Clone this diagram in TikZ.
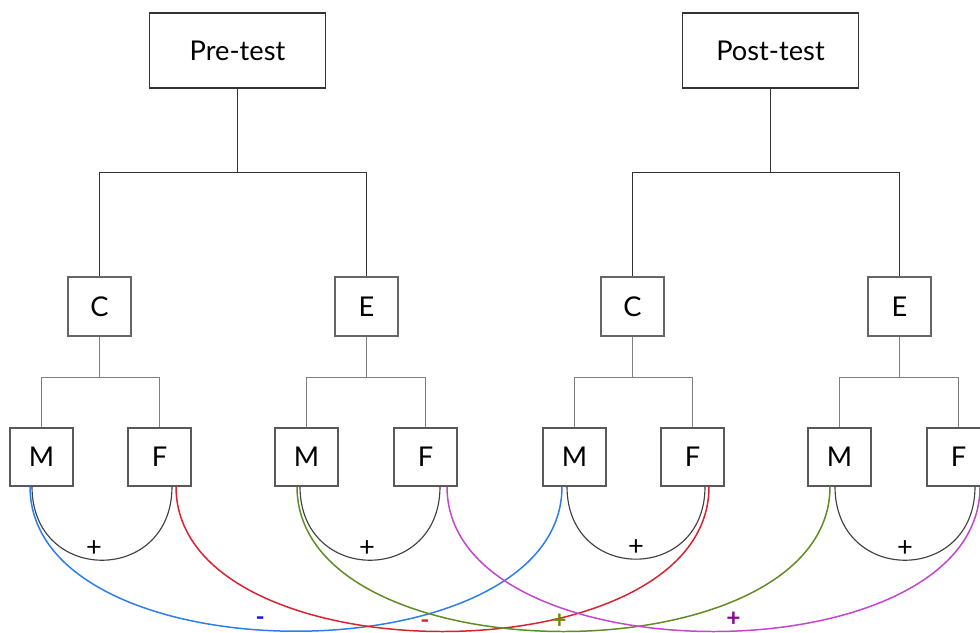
\documentclass[tikz,border=0pt]{standalone}
\usepackage{fontspec}
\setmainfont{Lato}
\definecolor{cblue}{RGB}{45,125,235}
\definecolor{cred}{RGB}{215,35,50}
\definecolor{cgreen}{RGB}{95,140,35}
\definecolor{cmagenta}{RGB}{195,70,205}
\definecolor{lblue}{RGB}{25,25,235}
\definecolor{lred}{RGB}{225,40,45}
\definecolor{lgreen}{RGB}{115,135,0}
\definecolor{lpurple}{RGB}{135,10,145}
\begin{document}
\begin{tikzpicture}[
    font=\fontsize{15.5}{18}\selectfont,
    testbox/.style={draw=black!80, line width=0.75pt, minimum width=3.52cm, minimum height=1.5cm},
    groupbox/.style={draw=black!60, line width=0.6pt, minimum width=1.26cm, minimum height=1.18cm},
    sexbox/.style={draw=black!65, line width=0.6pt, minimum width=1.26cm, minimum height=1.16cm},
    upper/.style={draw=black!80, line width=0.7pt},
    lower/.style={draw=black!50, line width=0.6pt},
    pair/.style={draw=black!75, line width=0.65pt},
    link/.style={line width=0.85pt},
    sign/.style={font=\fontsize{14}{16}\selectfont\bfseries}
]
    \useasboundingbox (0, 0) rectangle (19.6, 12.64);

    % Nodes
    \node at (4.75, 11.63) (pre) [testbox] {Pre-test};
    \node at (15.41, 11.63) (post) [testbox] {Post-test};

    \node at (1.99, 6.51) (preC) [groupbox] {C};
    \node at (7.33, 6.51) (preE) [groupbox] {E};
    \node at (12.65, 6.51) (postC) [groupbox] {C};
    \node at (17.99, 6.51) (postE) [groupbox] {E};

    \node at (0.83, 3.5) (preCM) [sexbox] {M};
    \node at (3.19, 3.5) (preCF) [sexbox] {F};
    \node at (6.13, 3.5) (preEM) [sexbox] {M};
    \node at (8.51, 3.5) (preEF) [sexbox] {F};
    \node at (11.49, 3.5) (postCM) [sexbox] {M};
    \node at (13.85, 3.5) (postCF) [sexbox] {F};
    \node at (16.79, 3.5) (postEM) [sexbox] {M};
    \node at (19.17, 3.5) (postEF) [sexbox] {F};

    % Tree
    \draw[upper] (pre.south) -- ++(0, -1.68) coordinate (preJ);
    \draw[upper] (preC.north) |- (preJ) -| (preE.north);
    \draw[upper] (post.south) -- ++(0, -1.68) coordinate (postJ);
    \draw[upper] (postC.north) |- (postJ) -| (postE.north);

    \draw[lower] (preC.south) -- ++(0, -0.82) coordinate (preCJ);
    \draw[lower] (preCM.north) |- (preCJ) -| (preCF.north);
    \draw[lower] (preE.south) -- ++(0, -0.82) coordinate (preEJ);
    \draw[lower] (preEM.north) |- (preEJ) -| (preEF.north);
    \draw[lower] (postC.south) -- ++(0, -0.82) coordinate (postCJ);
    \draw[lower] (postCM.north) |- (postCJ) -| (postCF.north);
    \draw[lower] (postE.south) -- ++(0, -0.82) coordinate (postEJ);
    \draw[lower] (postEM.north) |- (postEJ) -| (postEF.north);

    % Within-group arcs
    \draw[pair] ([xshift=-0.19cm]preCM.south) to[out=-90, in=-90, looseness=1.8]
        node[pos=0.5, yshift=0.24cm, xshift=-0.16cm] (preCS) {+} ([xshift=0.25cm]preCF.south);
    \draw[pair] ([xshift=-0.13cm]preEM.south) to[out=-90, in=-90, looseness=1.8]
        node[pos=0.5, yshift=0.24cm, xshift=-0.06cm] (preES) {+} ([xshift=0.29cm]preEF.south);
    \draw[pair] ([xshift=-0.15cm]postCM.south) to[out=-90, in=-90, looseness=1.8]
        node[pos=0.5, yshift=0.24cm] (postCS) {+} ([xshift=0.25cm]postCF.south);
    \draw[pair] ([xshift=-0.09cm]postEM.south) to[out=-90, in=-90, looseness=1.8]
        node[pos=0.5, yshift=0.24cm] (postES) {+} ([xshift=0.33cm]postEF.south);

    % Pre to post links
    \draw[link, cblue] ([xshift=-0.23cm]preCM.south) to[out=-90, in=-90, looseness=0.93]
        node[pos=0.455, yshift=0.17cm, sign, lblue] (blueS) {-} ([xshift=-0.25cm]postCM.south);
    \draw[link, cred] ([xshift=0.33cm]preCF.south) to[out=-90, in=-90, looseness=0.93]
        node[pos=0.478, yshift=0.15cm, sign, lred] (redS) {-} ([xshift=0.33cm]postCF.south);
    \draw[link, cgreen] ([xshift=-0.19cm]preEM.south) to[out=-90, in=-90, looseness=0.93]
        node[pos=0.495, yshift=0.21cm, sign, lgreen] (greenS) {+} ([xshift=-0.19cm]postEM.south);
    \draw[link, cmagenta] ([xshift=0.43cm]preEF.south) to[out=-90, in=-90, looseness=0.93]
        node[pos=0.525, yshift=0.23cm, sign, lpurple] (magentaS) {+} ([xshift=0.43cm]postEF.south);

\end{tikzpicture}
\end{document}
